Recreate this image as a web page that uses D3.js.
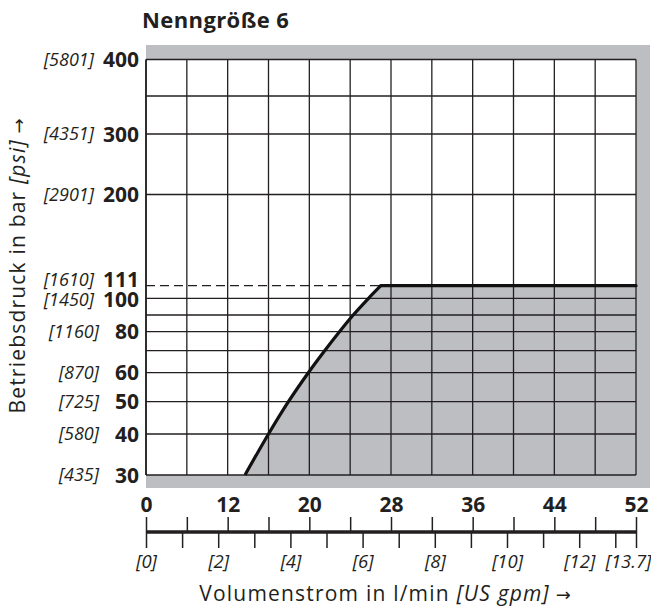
<!DOCTYPE html>
<html>
<head>
<meta charset="utf-8">
<script src="https://cdn.jsdelivr.net/npm/d3@7"></script>
<style>
  html, body { margin: 0; padding: 0; background: #fff; }
  svg { display: block; }
  text { font-family: "Open Sans", "Noto Sans", sans-serif; fill: #231f20; }
</style>
</head>
<body>
<svg id="chart" width="651" height="611"></svg>
<script>
// ---------------- data ----------------
const title = "Nenngröße 6";
// pressure axis (bar) with matching psi labels
const pressureTicks = [30, 40, 50, 60, 80, 100, 111, 200, 300, 400];
const psiLabels     = ["[435]", "[580]", "[725]", "[870]", "[1160]", "[1450]", "[1610]", "[2901]", "[4351]", "[5801]"];
// horizontal grid lines (bar)
const pressureGrid = [30, 40, 50, 60, 70, 80, 90, 100, 200, 300, 350, 400];
// flow axis (l/min)
const flowLabels = [0, 12, 20, 28, 36, 44, 52];
const flowGrid   = [0, 6, 12, 16, 20, 24, 28, 32, 36, 40, 44, 48, 52];
// US gpm axis
const gpmTicks  = [0, 1, 2, 3, 4, 5, 6, 7, 8, 9, 10, 11, 12, 13, 13.7];
const gpmLabels = [0, 2, 4, 6, 8, 10, 12, 13.7];
// limit curve: flow (l/min) vs max pressure (bar)
const curveFlow     = [13.7, 16.0, 17.95, 19.9, 21.5, 22.95, 24.3, 25.8, 27.0];
const curvePressure = [30,   40,   50,    60,   70,   80,    90,   100,  111];
const maxPressure = 111;
const maxFlow = 52;

// ---------------- layout ----------------
const X0 = 146, X1 = 636, YT = 59.5, YB = 475;
const GRAY = "#bdbec2", INK = "#231f20";
const colW = (X1 - X0) / 12;

const x = d3.scaleLinear().domain([0, 12, 52]).range([X0, X0 + 2 * colW, X1]);
const y = d3.scaleLinear()
  .domain([30, 40, 50, 60, 70, 80, 90, 100, 111, 200, 300, 350, 400])
  .range([475, 434, 401.7, 372.7, 350.7, 331.7, 315, 298.3, 285.7, 194.5, 134, 96, 59.5]);
const gpmStep = 36.1;
const xg = d3.scaleLinear().domain([0, 13, 13.7]).range([X0, X0 + 13 * gpmStep, X1]);

const svg = d3.select("#chart");

// gray frame
svg.append("rect").attr("x", X0).attr("y", 45).attr("width", 650 - X0).attr("height", 488 - 45).attr("fill", GRAY);
svg.append("rect").attr("x", X0).attr("y", YT).attr("width", X1 - X0).attr("height", YB - YT).attr("fill", "#fff");

// area under limit curve
const pts = curveFlow.map((f, i) => [x(f), y(curvePressure[i])]);
const curveGen = d3.line().curve(d3.curveCatmullRom.alpha(0.5));
const areaPath = curveGen(pts) + "L" + x(maxFlow) + "," + y(maxPressure) + "L" + x(maxFlow) + "," + y(30) + "Z";
svg.append("path").attr("d", areaPath).attr("fill", GRAY);

// grid
const grid = svg.append("g").attr("stroke", INK).attr("stroke-width", 1.3);
pressureGrid.forEach(p => {
  grid.append("line").attr("x1", X0).attr("x2", X1).attr("y1", y(p)).attr("y2", y(p));
});
flowGrid.forEach(f => {
  grid.append("line").attr("x1", x(f)).attr("x2", x(f)).attr("y1", YT).attr("y2", YB);
});
grid.append("line").attr("x1", X0).attr("x2", X0).attr("y1", YT).attr("y2", YB).attr("stroke-width", 1.6);

// dashed 111 bar line
const topFlow = curveFlow[curveFlow.length - 1];
svg.append("line").attr("x1", X0).attr("x2", x(topFlow)).attr("y1", y(maxPressure)).attr("y2", y(maxPressure))
  .attr("stroke", INK).attr("stroke-width", 1.3).attr("stroke-dasharray", "9,5");

// limit curve
svg.append("path").attr("d", curveGen(pts)).attr("fill", "none").attr("stroke", "#111").attr("stroke-width", 3.2);
svg.append("line").attr("x1", x(topFlow)).attr("x2", x(maxFlow)).attr("y1", y(maxPressure)).attr("y2", y(maxPressure))
  .attr("stroke", "#111").attr("stroke-width", 3.2).attr("stroke-linecap", "round");

// title
svg.append("text").attr("x", 142).attr("y", 28).attr("font-size", 22).attr("font-weight", 700)
  .attr("letter-spacing", 0.4).text(title);

// y labels
pressureTicks.forEach((p, i) => {
  const off = p === 111 ? -6.5 : (p === 100 ? 1.5 : 0);
  const yy = y(p) + off;
  const t = svg.append("text").attr("x", 139).attr("y", yy).attr("dy", "0.36em")
    .attr("text-anchor", "end").attr("font-size", 21).attr("font-weight", 700).text(p);
  const left = 139 - t.node().getComputedTextLength();
  svg.append("text").attr("x", Math.min(99, left - 9)).attr("y", yy).attr("dy", "0.36em")
    .attr("text-anchor", "end").attr("font-size", 18).attr("font-style", "italic").attr("font-weight", 400)
    .text(psiLabels[i]);
});

// x axis (flow / gpm)
const AXY = 532;
svg.append("line").attr("x1", X0).attr("x2", X1).attr("y1", AXY).attr("y2", AXY).attr("stroke", INK).attr("stroke-width", 3.5);
const topAxis = d3.axisTop(x).tickValues(flowGrid).tickSize(15).tickFormat(d => flowLabels.includes(d) ? d : "");
const gTop = svg.append("g").attr("transform", `translate(0,${AXY})`).call(topAxis);
gTop.select(".domain").remove();
gTop.selectAll(".tick line").attr("stroke", INK).attr("stroke-width", 1.5);
gTop.selectAll(".tick text").attr("font-size", 21).attr("font-weight", 700)
  .attr("font-family", "'Open Sans', sans-serif").attr("fill", INK).attr("y", -20).attr("dy", 0);

const botAxis = d3.axisBottom(xg).tickValues(gpmTicks).tickSize(16).tickFormat(d => gpmLabels.includes(d) ? "[" + d + "]" : "");
const gBot = svg.append("g").attr("transform", `translate(0,${AXY})`).call(botAxis);
gBot.select(".domain").remove();
gBot.selectAll(".tick line").attr("stroke", INK).attr("stroke-width", 1.5);
gBot.selectAll(".tick text").attr("font-size", 18.5).attr("font-style", "italic").attr("font-weight", 400)
  .attr("font-family", "'Open Sans', sans-serif").attr("fill", INK).attr("y", 36).attr("dy", 0);
gBot.selectAll(".tick text").filter(d => d === 13.7).attr("text-anchor", "end").attr("dx", 15);

// axis titles
function axisTitle(sel, plain, unit) {
  sel.append("tspan").text(plain);
  sel.append("tspan").attr("font-style", "italic").text(unit);
  sel.append("tspan").attr("font-family", "'DejaVu Sans', sans-serif").attr("letter-spacing", 0).attr("font-size", 18).text(" →");
}
const xt = svg.append("text").attr("x", 385).attr("y", 601).attr("text-anchor", "middle")
  .attr("font-size", 21).attr("font-weight", 400).attr("letter-spacing", 1.2);
axisTitle(xt, "Volumenstrom in l/min ", "[US gpm]");

const yt = svg.append("text").attr("transform", "translate(25,266) rotate(-90)").attr("text-anchor", "middle")
  .attr("font-size", 21).attr("font-weight", 400).attr("letter-spacing", 1.2);
axisTitle(yt, "Betriebsdruck in bar ", "[psi]");
</script>
</body>
</html>
